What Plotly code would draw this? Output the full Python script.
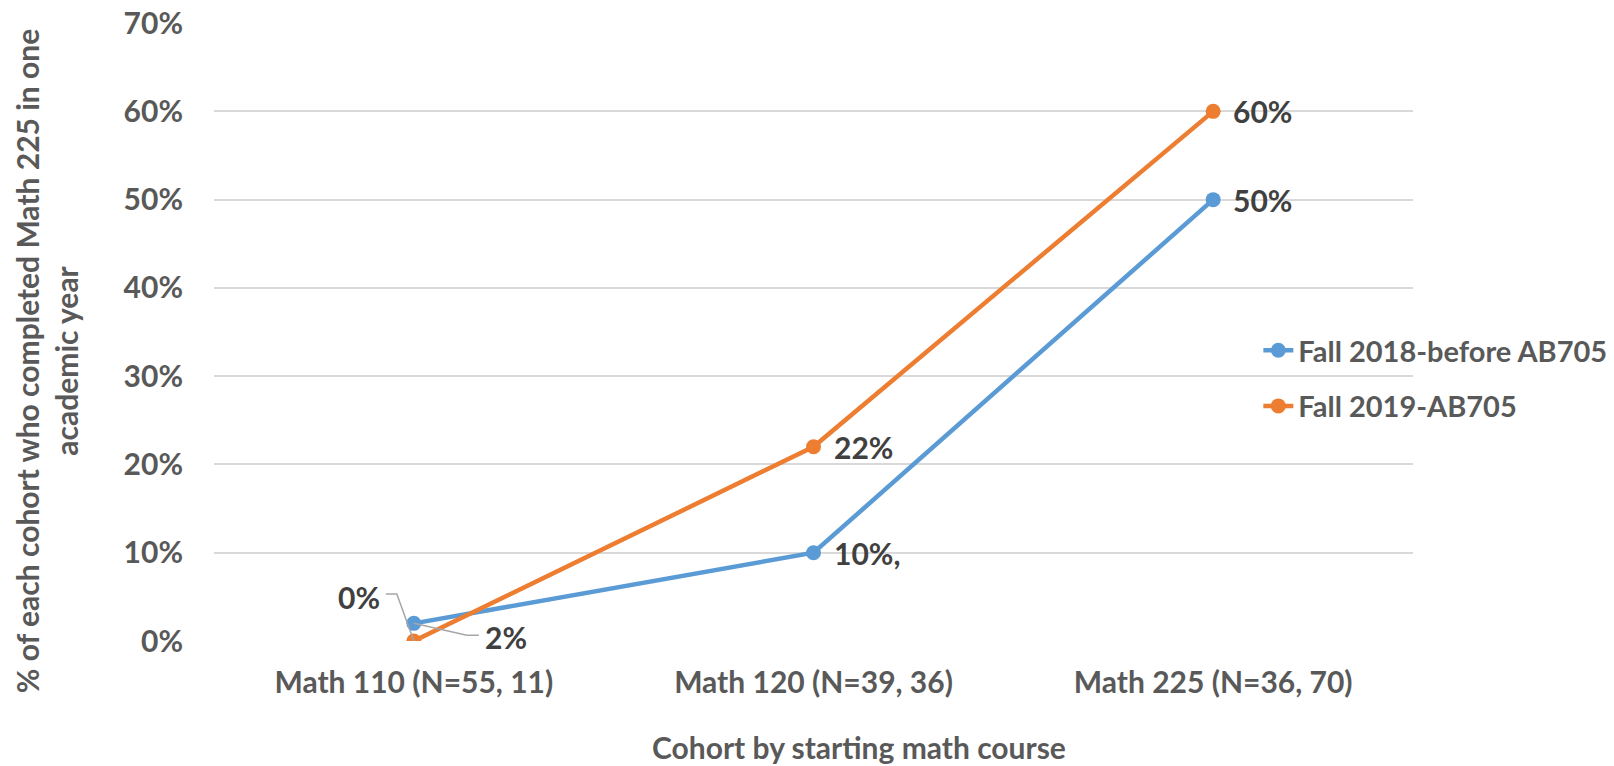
import plotly.graph_objects as go

categories = ["Math 110 (N=55, 11)", "Math 120 (N=39, 36)", "Math 225 (N=36, 70)"]
series_names = ["Fall 2018-before AB705", "Fall 2019-AB705"]
fall2018 = [0.02, 0.10, 0.50]
fall2019 = [0.00, 0.22, 0.60]
labels2018 = ["2%", "10%,", "50%"]
labels2019 = ["0%", "22%", "60%"]
y_ticks = [0, 0.1, 0.2, 0.3, 0.4, 0.5, 0.6, 0.7]
y_ticklabels = ["0%", "10%", "20%", "30%", "40%", "50%", "60%", "70%"]

BLUE = "#5B9BD5"
ORANGE = "#ED7D31"
FONT = "Lato"
FS = 30
TXT = "#595959"
LBL = "#404040"


def f(size=FS, color=TXT):
    return dict(family=FONT, size=size, color=color, weight=700)


fig = go.Figure()
fig.add_trace(go.Scatter(x=categories, y=fall2018, mode="lines+markers", name=series_names[0],
                         line=dict(color=BLUE, width=4.5), marker=dict(size=15, color=BLUE),
                         legendgroup="a"))
fig.add_trace(go.Scatter(x=categories, y=fall2019, mode="lines+markers", name=series_names[1],
                         line=dict(color=ORANGE, width=4.5), marker=dict(size=15, color=ORANGE),
                         legendgroup="b"))

annotations = []
for i in (1, 2):
    annotations.append(dict(x=categories[i], y=fall2018[i], text=labels2018[i], showarrow=False,
                            xanchor="left", yanchor="middle", xshift=18, font=f(color=LBL)))
    annotations.append(dict(x=categories[i], y=fall2019[i], text=labels2019[i], showarrow=False,
                            xanchor="left", yanchor="middle", xshift=18, font=f(color=LBL)))
annotations.append(dict(x=categories[0], y=fall2019[0], text=labels2019[0], showarrow=False,
                        xanchor="right", yanchor="middle", xshift=-32, yshift=44, font=f(color=LBL)))
annotations.append(dict(x=categories[0], y=fall2018[0], text=labels2018[0], showarrow=False,
                        xanchor="left", yanchor="middle", xshift=69, yshift=-14, font=f(color=LBL)))
annotations.append(dict(xref="paper", yref="paper", x=0.5, y=0, xshift=45, yshift=-106,
                        text="Cohort by starting math course", showarrow=False,
                        xanchor="center", yanchor="middle", font=f()))
annotations.append(dict(xref="paper", yref="paper", x=0, y=(641 - 361) / 618.3, xshift=-168,
                        text="% of each cohort who completed Math 225 in one<br>academic year",
                        showarrow=False, textangle=-90, xanchor="center", yanchor="middle",
                        font=f()))

shapes = [
    dict(type="path", xref="x", yref="y", xsizemode="pixel", ysizemode="pixel",
         xanchor=categories[0], yanchor=fall2019[0],
         path="M -28 47 L -17 47 L 0 0", line=dict(color="#A6A6A6", width=1.5)),
    dict(type="path", xref="x", yref="y", xsizemode="pixel", ysizemode="pixel",
         xanchor=categories[0], yanchor=fall2018[0],
         path="M 0 0 L 53 -12 L 65 -12", line=dict(color="#A6A6A6", width=1.5)),
]

fig.update_layout(
    width=1606, height=758,
    margin=dict(l=206, r=201, t=15, b=125, autoexpand=False),
    paper_bgcolor="white", plot_bgcolor="white",
    font=f(),
    showlegend=True,
    legend=dict(x=0.871, y=0.425, xanchor="left", yanchor="middle",
                font=f(size=29), tracegroupgap=15, bgcolor="rgba(0,0,0,0)"),
    xaxis=dict(type="category", range=[-0.5, 2.5], showgrid=False, zeroline=False,
               showline=False, ticks="", tickfont=f(), ticklabelstandoff=21),
    yaxis=dict(range=[0, 0.7001], tickvals=y_ticks, ticktext=y_ticklabels,
               showgrid=True, gridcolor="#D9D9D9", gridwidth=1.5, zeroline=False,
               showline=False, ticks="", tickfont=f(), ticklabelstandoff=30,
               ticklabeloverflow="allow"),
    annotations=annotations,
    shapes=shapes,
)
fig.write_html("out.html")
